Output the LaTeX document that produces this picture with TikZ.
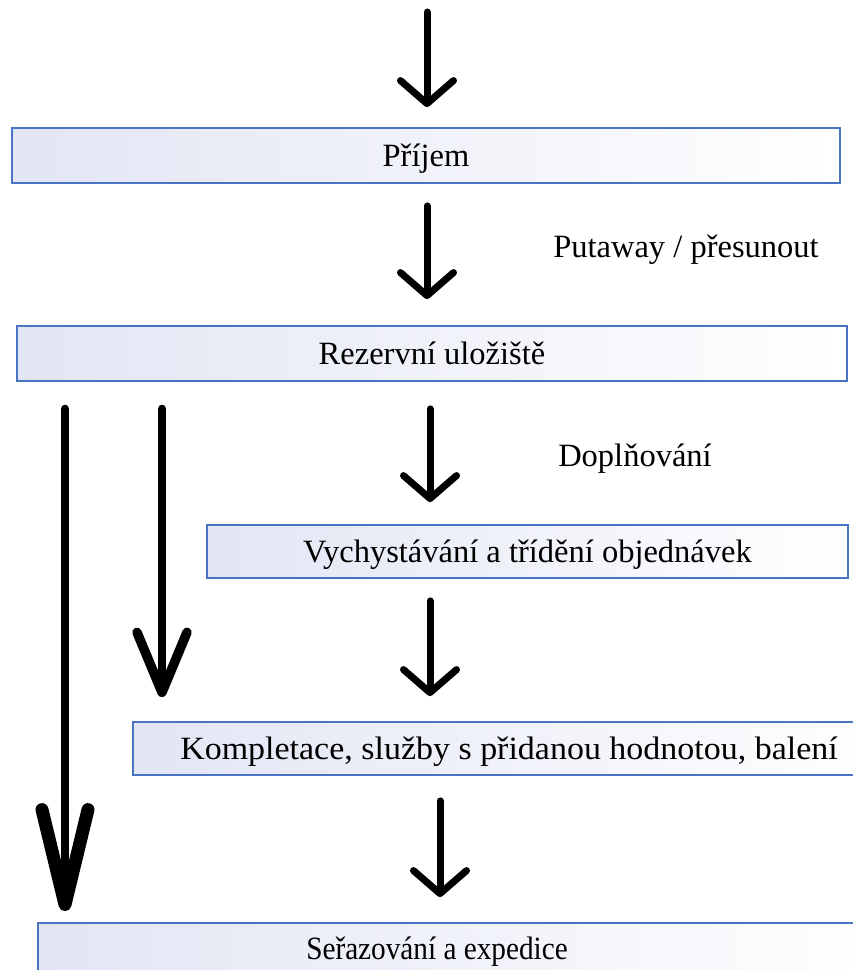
\documentclass[tikz,border=0pt]{standalone}
\usepackage{graphicx}
\usepackage{fontspec}
\setmainfont{Liberation Serif}
\usetikzlibrary{arrows.meta}
\definecolor{boxblue}{HTML}{4A74C2}
\definecolor{boxfill}{HTML}{E2E5F4}
\begin{document}
\begin{tikzpicture}[x=1pt,y=-1pt,
  txt/.style={font=\fontsize{32.5}{38}\selectfont, text height=22pt, text depth=0pt},
  box/.style={txt, draw=boxblue, line width=1.8pt, left color=boxfill, right color=white,
    rectangle, inner sep=0pt},
  lbl/.style={txt, inner sep=0pt},
  smallarr/.style={line width=7pt, line cap=round,
    -{Straight Barb[length=23pt, width=53pt, line width=7pt, round]}},
  longarr/.style={line width=8.5pt, line cap=round,
    -{Straight Barb[length=60pt, width=50pt, line width=9.5pt, round]}},
  bigarr/.style={line width=8.5pt, line cap=round,
    -{Straight Barb[length=95pt, width=46pt, line width=13pt, round]}}
]
\useasboundingbox (0,0) rectangle (853,970);
\clip (0,0) rectangle (853,970);
\fill[white] (0,0) rectangle (853,970);

\node[box, minimum width=828pt, minimum height=55pt] (b1) at (426,155.5) {Příjem};
\node[box, minimum width=830pt, minimum height=55pt] (b2) at (432,353.5) {Rezervní uložiště};
\node[box, minimum width=641pt, minimum height=53pt] (b3) at (527.5,551.5) {Vychystávání a třídění objednávek};
\node[box, minimum width=752pt, minimum height=53pt] (b4) at (509,748.5) {\scalebox{1.045}[1]{Kompletace, služby s přidanou hodnotou, balení}};
\node[box, minimum width=852pt, minimum height=50pt] (b5) at (464,948) {\hspace*{-54pt}\scalebox{0.9}[1]{Seřazování a expedice}};

\node[lbl] (l1) at (686,246) {Putaway / přesunout};
\node[lbl] (l2) at (635,455) {Doplňování};

\coordinate (s0) at (427,12);
\draw[smallarr] (s0) -- ([yshift=20pt]b1.north -| s0);
\draw[smallarr] ([yshift=-22pt]b1.south -| s0) -- ([yshift=26pt]b2.north -| s0);
\coordinate (s2) at (430,0);
\draw[smallarr] ([yshift=-27pt]b2.south -| s2) -- ([yshift=22pt]b3.north -| s2);
\draw[smallarr] ([yshift=-22pt]b3.south -| s2) -- ([yshift=25pt]b4.north -| s2);
\coordinate (s4) at (440,0);
\draw[smallarr] ([yshift=-25pt]b4.south -| s4) -- ([yshift=25pt]b5.north -| s4);

\coordinate (la) at (65,0);
\coordinate (lb) at (162,0);
\draw[longarr] ([yshift=-27pt]b2.south -| lb) -- ([yshift=24pt]b4.north -| lb);
\draw[bigarr] ([yshift=-27pt]b2.south -| la) -- ([yshift=11pt]b5.north -| la);
\end{tikzpicture}
\end{document}
